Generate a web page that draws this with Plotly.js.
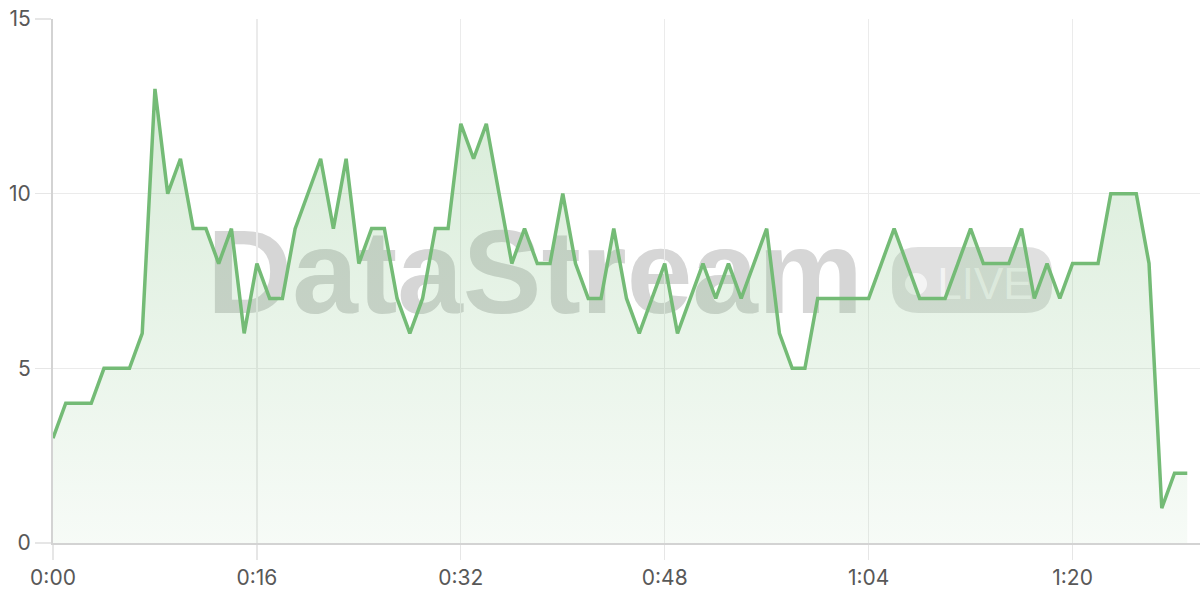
<!DOCTYPE html>
<html>
<head>
<meta charset="utf-8">
<script src="https://cdn.plot.ly/plotly-3.0.1.min.js"></script>
<style>
  html, body { margin: 0; padding: 0; background: white; }
  #chart { width: 1200px; height: 600px; }
</style>
</head>
<body>
<div id="chart"></div>
<script>
// Stream rate, one sample per second
const seconds = [
    0, 1, 2, 3, 4, 5, 6, 7, 8, 9,
    10, 11, 12, 13, 14, 15, 16, 17, 18, 19,
    20, 21, 22, 23, 24, 25, 26, 27, 28, 29,
    30, 31, 32, 33, 34, 35, 36, 37, 38, 39,
    40, 41, 42, 43, 44, 45, 46, 47, 48, 49,
    50, 51, 52, 53, 54, 55, 56, 57, 58, 59,
    60, 61, 62, 63, 64, 65, 66, 67, 68, 69,
    70, 71, 72, 73, 74, 75, 76, 77, 78, 79,
    80, 81, 82, 83, 84, 85, 86, 87, 88, 89
];
const values = [
    3, 4, 4, 4, 5, 5, 5, 6, 13, 10,
    11, 9, 9, 8, 9, 6, 8, 7, 7, 9,
    10, 11, 9, 11, 8, 9, 9, 7, 6, 7,
    9, 9, 12, 11, 12, 10, 8, 9, 8, 8,
    10, 8, 7, 7, 9, 7, 6, 7, 8, 6,
    7, 8, 7, 8, 7, 8, 9, 6, 5, 5,
    7, 7, 7, 7, 7, 8, 9, 8, 7, 7,
    7, 8, 9, 8, 8, 8, 9, 7, 8, 7,
    8, 8, 8, 10, 10, 10, 8, 1, 2, 2
];
const xTickVals = [0, 16, 32, 48, 64, 80];
const xTickText = ['0:00', '0:16', '0:32', '0:48', '1:04', '1:20'];
const yTickVals = [0, 5, 10, 15];

const lineColor = '#74bb76';

const data = [{
    x: seconds,
    y: values,
    type: 'scatter',
    mode: 'lines',
    line: {color: lineColor, width: 3.5, shape: 'linear'},
    fill: 'tozeroy',
    fillgradient: {
        type: 'vertical',
        start: 0,
        stop: 13,
        colorscale: [
            [0, 'rgba(116, 187, 118, 0.06)'],
            [1, 'rgba(116, 187, 118, 0.28)']
        ]
    },
    hoverinfo: 'skip'
}];

// watermark pill: rounded rect in paper units
const px = v => (v - 53) / 1147;
const py = v => (543 - v) / 524;
function roundRect(x0, y0, x1, y1, r) {
    const rx = r / 1147, ry = r / 524;
    const a = px(x0), b = px(x1), t = py(y0), u = py(y1);
    return 'M' + (a + rx) + ',' + t +
        ' L' + (b - rx) + ',' + t + ' Q' + b + ',' + t + ' ' + b + ',' + (t - ry) +
        ' L' + b + ',' + (u + ry) + ' Q' + b + ',' + u + ' ' + (b - rx) + ',' + u +
        ' L' + (a + rx) + ',' + u + ' Q' + a + ',' + u + ' ' + a + ',' + (u + ry) +
        ' L' + a + ',' + (t - ry) + ' Q' + a + ',' + t + ' ' + (a + rx) + ',' + t + ' Z';
}

const shapes = [
    {
        type: 'rect', layer: 'below', xref: 'paper', yref: 'paper',
        x0: px(199), x1: px(871), y0: py(310), y1: py(212),
        line: {width: 0}, fillcolor: 'rgba(0,0,0,0)',
        label: {
            text: 'DataStream',
            textposition: 'middle center',
            font: {family: 'Liberation Sans', size: 118, color: '#d6d6d6', weight: 'bold'}
        }
    },
    {
        type: 'path', layer: 'below', xref: 'paper', yref: 'paper',
        path: roundRect(892, 247, 1052, 313, 26),
        line: {width: 0}, fillcolor: 'rgba(0,0,0,0.12)'
    },
    {
        type: 'circle', layer: 'below', xref: 'paper', yref: 'paper',
        x0: px(905), x1: px(927), y0: py(295), y1: py(273),
        line: {width: 0}, fillcolor: 'rgba(255,255,255,0.65)'
    },
    {
        type: 'rect', layer: 'below', xref: 'paper', yref: 'paper',
        x0: px(934), x1: px(1036), y0: py(300), y1: py(258),
        line: {width: 0}, fillcolor: 'rgba(0,0,0,0)',
        label: {
            text: 'LIVE',
            textposition: 'middle center',
            font: {family: 'Liberation Sans', size: 44, color: 'rgba(255,255,255,0.65)'}
        }
    }
];

const layout = {
    width: 1200,
    height: 600,
    margin: {l: 53, r: 0, t: 19, b: 57},
    paper_bgcolor: 'white',
    plot_bgcolor: 'white',
    font: {family: 'Inter, Roboto, sans-serif', size: 21, color: '#585858'},
    showlegend: false,
    xaxis: {
        range: [0, 90],
        tickmode: 'array',
        tickvals: xTickVals,
        ticktext: xTickText,
        showgrid: true,
        gridcolor: '#ebebeb',
        gridwidth: 1.2,
        zeroline: false,
        showline: true,
        linecolor: '#d3d3d3',
        linewidth: 2,
        ticks: 'outside',
        ticklen: 15,
        tickwidth: 1.2,
        tickcolor: '#e6e6e6',
        fixedrange: true
    },
    yaxis: {
        range: [0, 15],
        tickmode: 'array',
        tickvals: yTickVals,
        showgrid: true,
        gridcolor: '#ebebeb',
        gridwidth: 1.2,
        zeroline: false,
        showline: true,
        linecolor: '#d3d3d3',
        linewidth: 2,
        ticks: 'outside',
        ticklen: 16,
        tickwidth: 1.2,
        tickcolor: '#e6e6e6',
        fixedrange: true
    },
    shapes: shapes
};

Plotly.newPlot('chart', data, layout, {displayModeBar: false, staticPlot: true});
</script>
</body>
</html>
